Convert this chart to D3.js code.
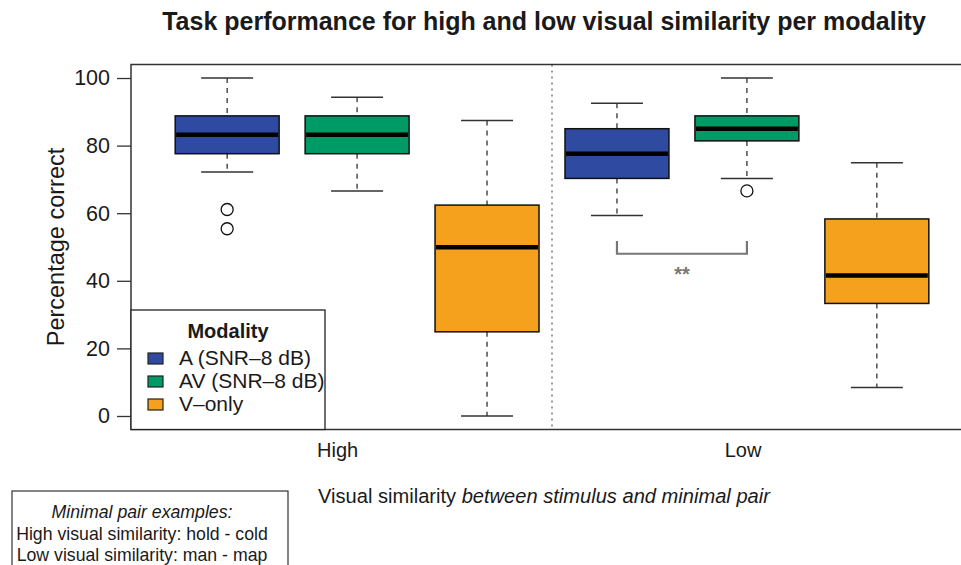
<!DOCTYPE html>
<html>
<head>
<meta charset="utf-8">
<script src="https://cdn.jsdelivr.net/npm/d3@7"></script>
<style>
  body { margin: 0; background: #fff; }
  text { font-family: "Liberation Sans", Arial, sans-serif; fill: #1a1a1a; }
</style>
</head>
<body>
<div id="chart"></div>
<script>
// Data
const modalities = ["A (SNR\u20138 dB)", "AV (SNR\u20138 dB)", "V\u2013only"];
const colors = ["#2e4ba1", "#009a66", "#f5a11e"];
const groups = ["High", "Low"];
const groupLabelPos = [1.85, 4.97];
// box positions 1..6, stats: [low whisker, q1, median, q3, high whisker]
const positions = [1, 2, 3, 4, 5, 6];
const boxGroup = [0, 0, 0, 1, 1, 1];
const boxModality = [0, 1, 2, 0, 1, 2];
const lowWhisker = [72.2, 66.6, 0, 59.3, 70.3, 8.4];
const q1 = [77.6, 77.6, 24.9, 70.3, 81.4, 33.3];
const median = [83.2, 83.2, 49.9, 77.6, 85.0, 41.6];
const q3 = [88.8, 88.8, 62.4, 85.0, 88.8, 58.3];
const highWhisker = [100, 94.3, 87.4, 92.5, 100, 74.9];
const outliers = [[61.1, 55.4], [], [], [], [66.6], []];
const yTicks = [0, 20, 40, 60, 80, 100];
// significance bracket between low A and low AV
const sigFrom = 4, sigTo = 5, sigTop = 51.8, sigBottom = 48, sigLabel = "**";

const W = 961, H = 565;
const plot = {left: 131, right: 973, top: 64.5, bottom: 429.5};

const svg = d3.select("#chart").append("svg")
    .attr("width", W)
    .attr("height", H);

const x = d3.scaleLinear()
    .domain([0.26, 6.74])
    .range([plot.left, plot.right]);

const y = d3.scaleLinear()
    .domain([-4, 104])
    .range([plot.bottom, plot.top]);

const boxW = 0.8, capW = 0.4;

// title
svg.append("text")
    .attr("x", 544)
    .attr("y", 30)
    .attr("text-anchor", "middle")
    .attr("font-weight", "bold")
    .attr("font-size", 25)
    .text("Task performance for high and low visual similarity per modality");

// y axis
const yAxis = svg.append("g")
    .attr("transform", `translate(${plot.left},0)`)
    .call(d3.axisLeft(y).tickValues(yTicks).tickSize(14).tickPadding(7));
yAxis.select(".domain").remove();
yAxis.selectAll(".tick line").attr("stroke", "#333").attr("stroke-width", 1.3);
yAxis.selectAll(".tick text")
    .attr("font-size", 21.5)
    .attr("font-family", "Liberation Sans, Arial, sans-serif")
    .attr("fill", "#1a1a1a");

svg.append("text")
    .attr("transform", `translate(64,${y(50)}) rotate(-90)`)
    .attr("text-anchor", "middle")
    .attr("font-size", 23.5)
    .text("Percentage correct");

// divider between groups
svg.append("line")
    .attr("x1", x(3.5)).attr("x2", x(3.5))
    .attr("y1", plot.top).attr("y2", plot.bottom)
    .attr("stroke", "#999")
    .attr("stroke-width", 2)
    .attr("stroke-dasharray", "2,4");

// boxes
const boxes = svg.selectAll(".box")
    .data(positions)
  .enter().append("g")
    .attr("class", "box");

boxes.append("line")
    .attr("x1", d => x(d)).attr("x2", d => x(d))
    .attr("y1", (d, i) => y(highWhisker[i])).attr("y2", (d, i) => y(q3[i]))
    .attr("stroke", "#333").attr("stroke-width", 1.3).attr("stroke-dasharray", "5,5");
boxes.append("line")
    .attr("x1", d => x(d)).attr("x2", d => x(d))
    .attr("y1", (d, i) => y(q1[i])).attr("y2", (d, i) => y(lowWhisker[i]))
    .attr("stroke", "#333").attr("stroke-width", 1.3).attr("stroke-dasharray", "5,5");
boxes.append("line")
    .attr("x1", d => x(d - capW / 2)).attr("x2", d => x(d + capW / 2))
    .attr("y1", (d, i) => y(highWhisker[i])).attr("y2", (d, i) => y(highWhisker[i]))
    .attr("stroke", "#333").attr("stroke-width", 1.5);
boxes.append("line")
    .attr("x1", d => x(d - capW / 2)).attr("x2", d => x(d + capW / 2))
    .attr("y1", (d, i) => y(lowWhisker[i])).attr("y2", (d, i) => y(lowWhisker[i]))
    .attr("stroke", "#333").attr("stroke-width", 1.5);
boxes.append("rect")
    .attr("x", d => x(d - boxW / 2))
    .attr("width", d => x(d + boxW / 2) - x(d - boxW / 2))
    .attr("y", (d, i) => y(q3[i]))
    .attr("height", (d, i) => y(q1[i]) - y(q3[i]))
    .attr("fill", (d, i) => colors[boxModality[i]])
    .attr("stroke", "#111")
    .attr("stroke-width", 1.5);
boxes.append("line")
    .attr("x1", d => x(d - boxW / 2) + 1).attr("x2", d => x(d + boxW / 2) - 1)
    .attr("y1", (d, i) => y(median[i])).attr("y2", (d, i) => y(median[i]))
    .attr("stroke", "#000").attr("stroke-width", 4.5);

boxes.each(function(d, i) {
    d3.select(this).selectAll("circle")
        .data(outliers[i])
      .enter().append("circle")
        .attr("cx", x(d))
        .attr("cy", v => y(v))
        .attr("r", 6)
        .attr("fill", "#fff")
        .attr("stroke", "#111")
        .attr("stroke-width", 1.3);
});

// significance bracket
svg.append("path")
    .attr("d", `M${x(sigFrom)},${y(sigTop)}V${y(sigBottom)}H${x(sigTo)}V${y(sigTop)}`)
    .attr("fill", "none")
    .attr("stroke", "#777")
    .attr("stroke-width", 2.2);
svg.append("text")
    .attr("x", (x(sigFrom) + x(sigTo)) / 2)
    .attr("y", y(sigBottom) + 27)
    .attr("text-anchor", "middle")
    .attr("font-size", 20)
    .attr("font-weight", "bold")
    .style("fill", "#777")
    .text(sigLabel);

// plot frame
svg.append("rect")
    .attr("x", plot.left).attr("y", plot.top)
    .attr("width", plot.right - plot.left)
    .attr("height", plot.bottom - plot.top)
    .attr("fill", "none")
    .attr("stroke", "#333")
    .attr("stroke-width", 1.5);

// x axis labels
svg.selectAll(".group-label")
    .data(groups)
  .enter().append("text")
    .attr("class", "group-label")
    .attr("x", (d, i) => x(groupLabelPos[i]))
    .attr("y", 457)
    .attr("text-anchor", "middle")
    .attr("font-size", 20)
    .text(d => d);

const xt = svg.append("text")
    .attr("x", 318)
    .attr("y", 503)
    .attr("font-size", 20.1);
xt.append("tspan").text("Visual similarity ");
xt.append("tspan").attr("font-style", "italic").text("between stimulus and minimal pair");

// legend
const leg = svg.append("g");
leg.append("rect")
    .attr("x", plot.left).attr("y", 310)
    .attr("width", 194).attr("height", plot.bottom - 310)
    .attr("fill", "#fff")
    .attr("stroke", "#222")
    .attr("stroke-width", 1.3);
leg.append("text")
    .attr("x", 228).attr("y", 338)
    .attr("text-anchor", "middle")
    .attr("font-weight", "bold")
    .attr("font-size", 20)
    .text("Modality");
const items = leg.selectAll(".item")
    .data(modalities)
  .enter().append("g")
    .attr("transform", (d, i) => `translate(148,${353 + i * 23})`);
items.append("rect")
    .attr("width", 15).attr("height", 11)
    .attr("fill", (d, i) => colors[i])
    .attr("stroke", "#222")
    .attr("stroke-width", 1.2);
items.append("text")
    .attr("x", 31).attr("y", 12)
    .attr("font-size", 21)
    .text(d => d);

// note box
const note = ["Minimal pair examples:", "High visual similarity: hold - cold", "Low visual similarity: man - map"];
svg.append("rect")
    .attr("x", 12).attr("y", 491)
    .attr("width", 276).attr("height", 80)
    .attr("fill", "#fff")
    .attr("stroke", "#333")
    .attr("stroke-width", 1.2);
svg.selectAll(".note")
    .data(note)
  .enter().append("text")
    .attr("x", 142)
    .attr("y", (d, i) => 518 + i * 21.5)
    .attr("text-anchor", "middle")
    .attr("font-size", 17.7)
    .attr("font-style", (d, i) => i === 0 ? "italic" : "normal")
    .text(d => d);
</script>
</body>
</html>
